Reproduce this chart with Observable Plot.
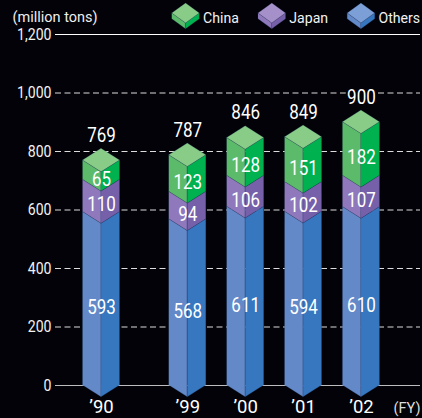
<!DOCTYPE html>
<html><head><meta charset="utf-8">
<script src="https://cdn.jsdelivr.net/npm/d3@7"></script>
<script src="https://cdn.jsdelivr.net/npm/@observablehq/plot@0.6"></script>
<style>html,body{margin:0;padding:0;background:#020208;overflow:hidden}svg{display:block}</style>
</head><body><div id="c"></div>
<script>
const years = ["’90","’99","’00","’01","’02"];
const slots = [0, 1.49, 2.49, 3.49, 4.49];
const others = [593, 568, 611, 594, 610];
const japan = [110, 94, 106, 102, 107];
const china = [65, 123, 128, 151, 182];
const totals = [769, 787, 846, 849, 900];
const series = ["Others", "Japan", "China"];
const yTicks = [0, 200, 400, 600, 800, 1000, 1200];
const palette = {
  Others: {left: "#6389C8", right: "#3677BF", top: "#7C9FD8"},
  Japan: {left: "#8F79BC", right: "#7660A9", top: "#A690C9"},
  China: {left: "#5CBB6A", right: "#00B14F", top: "#88CC88"}
};
const bg = "#020208";
const font = "Roboto,sans-serif";
const hw = 0.32, depth = 40;

const left = [], right = [], tops = [], labels = [];
slots.forEach((s, i) => {
  const parts = [[0, others[i], "Others"], [others[i], others[i] + japan[i], "Japan"], [others[i] + japan[i], totals[i], "China"]];
  parts.forEach(([a, b, k], j) => {
    const id = i + "-" + k;
    left.push({x: s - hw, y1: a, y2: b, z: id, k}, {x: s, y1: a - depth, y2: b - depth, z: id, k});
    right.push({x: s, y1: a - depth, y2: b - depth, z: id, k}, {x: s + hw, y1: a, y2: b, z: id, k});
    labels.push({x: s, y: (a + b) / 2, t: [others, japan, china][j][i]});
  });
  const v = totals[i], id = "t" + i;
  tops.push({x: s - hw, y1: v, y2: v, z: id, k: "China"}, {x: s, y1: v - depth, y2: v + depth, z: id, k: "China"}, {x: s + hw, y1: v, y2: v, z: id, k: "China"});
});

// legend cubes share the chart's scales
const legendSlots = [1.46, 2.95, 4.49];
const legendKeys = ["China", "Japan", "Others"];
const legendY = 1272, lhw = 0.238, ld = 34, lh = 20;
const lLeft = [], lRight = [], lTop = [];
legendSlots.forEach((s, i) => {
  const k = legendKeys[i], id = "l" + i;
  lLeft.push({x: s - lhw, y1: legendY - lh, y2: legendY, z: id, k}, {x: s, y1: legendY - lh - ld, y2: legendY - ld, z: id, k});
  lRight.push({x: s, y1: legendY - lh - ld, y2: legendY - ld, z: id, k}, {x: s + lhw, y1: legendY - lh, y2: legendY, z: id, k});
  lTop.push({x: s - lhw, y1: legendY, y2: legendY, z: id, k}, {x: s, y1: legendY - ld, y2: legendY + ld, z: id, k}, {x: s + lhw, y1: legendY, y2: legendY, z: id, k});
});

const face = (rows, side) => Plot.areaY(rows, {
  x: "x", y1: "y1", y2: "y2", z: "z",
  fill: d => palette[d.k][side],
  stroke: "#1d3a6a", strokeOpacity: 0.35, strokeWidth: 0.6, curve: "linear"
});

const xMin = -0.795, xMax = 5.51;
const plot = Plot.plot({
  width: 422, height: 418,
  marginLeft: 0, marginRight: 0, marginTop: 0, marginBottom: 0,
  style: {background: bg, color: "#fff", fontFamily: font, overflow: "visible"},
  x: {domain: [xMin, xMax], range: [55, 420], axis: null},
  y: {domain: [0, 1200], range: [385, 34], axis: null},
  marks: [
    Plot.ruleY(yTicks.filter(d => d > 0 && d < 1200), {x1: xMin, x2: xMax, stroke: "#dcdcdc", strokeWidth: 1, strokeDasharray: "6 3.5"}),
    Plot.ruleY([1200], {x1: xMin, x2: xMax, stroke: "#fff", strokeWidth: 1.2}),
    Plot.ruleY([0], {x1: xMin, x2: xMax, stroke: "#bdbdbd", strokeWidth: 1.2}),
    Plot.text(yTicks, {x: xMin, y: d => d, text: d => d3.format(",")(d), textAnchor: "end", dx: -4, fontSize: 16, fill: "#f2f2f2"}),
    face(left, "left"),
    face(right, "right"),
    face(tops, "top"),
    Plot.text(labels, {x: "x", y: "y", text: "t", dy: 9, fontSize: 20, fill: "#fff"}),
    Plot.text(slots, {x: d => d, y: totals.map(d => d), text: totals.map(String), dy: -25, fontSize: 20, fill: "#fff", stroke: bg, strokeWidth: 5}),
    Plot.text(slots, {x: d => d, y: 0, text: years, dy: 22, fontSize: 18.5, fill: "#fff"}),
    Plot.text(["(FY)"], {x: xMax, y: 0, textAnchor: "end", dy: 23, fontSize: 14.5, fill: "#ddd"}),
    Plot.text(["(million tons)"], {x: xMin, y: 1200, textAnchor: "middle", dx: -0.5, dy: -17, fontSize: 14.5, fill: "#eee"}),
    face(lLeft, "left"),
    face(lRight, "right"),
    face(lTop, "top"),
    Plot.text(legendKeys, {x: legendSlots, y: legendSlots.map(() => legendY), text: d => d, textAnchor: "start", dx: 17, dy: 5, fontSize: 15, fill: "#f2f2f2"})
  ]
});
document.getElementById("c").appendChild(plot);
// the reference uses a condensed face: narrow the real text to match
d3.select(plot).selectAll("text").each(function () {
  const len = this.getComputedTextLength();
  if (!len) return;
  const f = parseFloat(getComputedStyle(this).fontSize);
  const isYear = this.textContent.startsWith("’");
  const k = isYear ? 1 : f >= 19 ? 0.85 : f >= 15.5 ? 0.88 : f === 15 ? 0.94 : 1;
  this.setAttribute("textLength", len * k);
  this.setAttribute("lengthAdjust", "spacingAndGlyphs");
});
</script></body></html>
